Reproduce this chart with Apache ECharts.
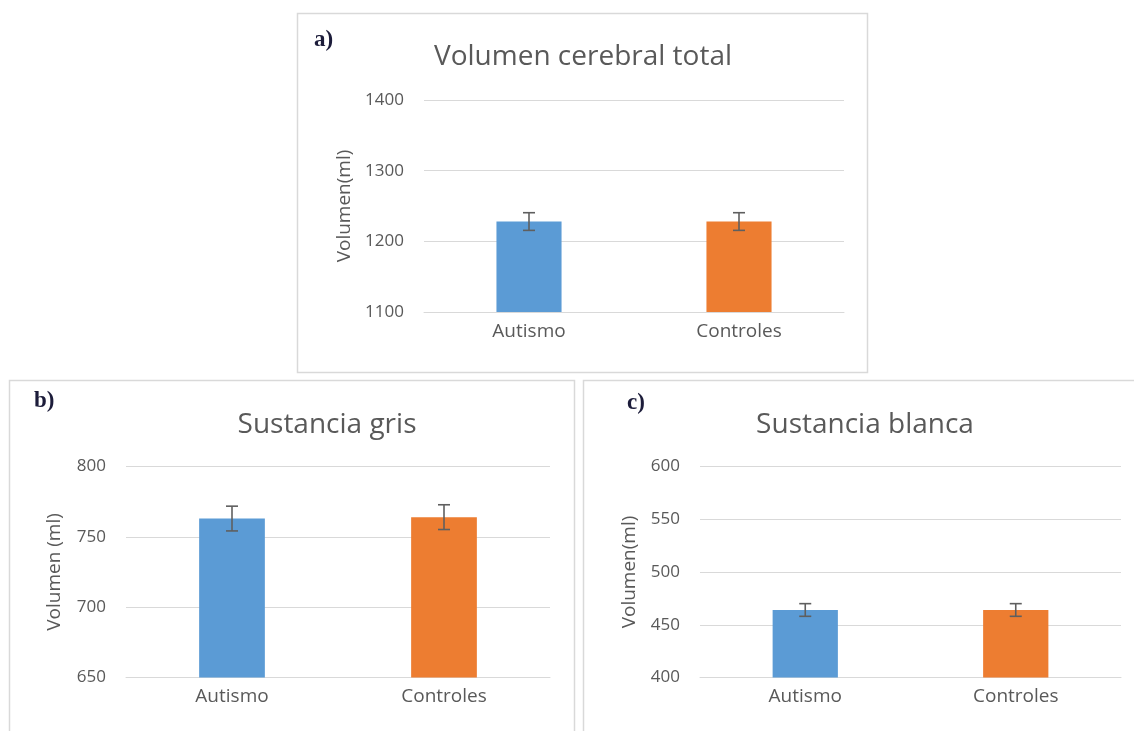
<!DOCTYPE html>
<html>
<head>
<meta charset="utf-8">
<script src="https://cdn.jsdelivr.net/npm/echarts@6/dist/echarts.min.js"></script>
<style>
  html, body { margin: 0; padding: 0; background: #ffffff; }
  #chart { width: 1134px; height: 731px; }
</style>
</head>
<body>
<div id="chart"></div>
<script>
// Group labels and bar colours
const categories = ['Autismo', 'Controles'];
const barColors = ['#5B9BD5', '#ED7D31'];

// a) Volumen cerebral total (ml): means and error half-widths
const totalMeans = [1228, 1228];
const totalErr = [12.5, 12.5];

// b) Sustancia gris (ml)
const grisMeans = [763, 764];
const grisErr = [8.8, 8.8];

// c) Sustancia blanca (ml)
const blancaMeans = [464, 464];
const blancaErr = [6, 6];

// Panel titles, tags and axis names
const panelTitles = ['Volumen cerebral total', 'Sustancia gris', 'Sustancia blanca'];
const panelTags = ['a)', 'b)', 'c)'];
const axisNames = ['Volumen(ml)', 'Volumen (ml)', 'Volumen(ml)'];

// Y scales: [min, max, interval]
const yScales = [[1100, 1400, 100], [650, 800, 50], [400, 600, 50]];

const FONT = '"Open Sans", "Noto Sans", sans-serif';
const TEXT = '#595959';
const GRID_LINE = '#d9d9d9';

const chart = echarts.init(document.getElementById('chart'), null, { renderer: 'canvas' });

const grids = [
  { left: 424, top: 100, width: 420, height: 212 },
  { left: 126, top: 466.5, width: 424, height: 211 },
  { left: 700, top: 466.5, width: 421, height: 211 }
];

const means = [totalMeans, grisMeans, blancaMeans];
const errs = [totalErr, grisErr, blancaErr];
const nameGaps = [70, 62, 61];

const xAxes = grids.map((g, i) => ({
  type: 'category',
  gridIndex: i,
  data: categories,
  axisLine: { show: true, lineStyle: { color: GRID_LINE, width: 1 } },
  axisTick: { show: false },
  axisLabel: { color: TEXT, fontFamily: FONT, fontSize: 19, margin: 10 }
}));

const yAxes = grids.map((g, i) => ({
  type: 'value',
  gridIndex: i,
  min: yScales[i][0],
  max: yScales[i][1],
  interval: yScales[i][2],
  name: axisNames[i],
  nameLocation: 'middle',
  nameGap: nameGaps[i],
  nameRotate: 90,
  nameTextStyle: { color: TEXT, fontFamily: FONT, fontSize: 19 },
  axisLine: { show: false },
  axisTick: { show: false },
  axisLabel: {
    color: TEXT, fontFamily: FONT, fontSize: 17, margin: 20,
    formatter: v => String(v)
  },
  splitLine: { show: true, lineStyle: { color: GRID_LINE, width: 1 } }
}));

const series = [];
means.forEach((vals, i) => {
  series.push({
    type: 'bar',
    xAxisIndex: i,
    yAxisIndex: i,
    barWidth: '31%',
    data: vals.map((v, k) => ({ value: v, itemStyle: { color: barColors[k] } })),
    silent: true,
    z: 2
  });
  series.push({
    type: 'custom',
    xAxisIndex: i,
    yAxisIndex: i,
    data: vals.map((v, k) => [k, v, errs[i][k]]),
    z: 5,
    silent: true,
    renderItem: function (params, api) {
      const x = api.value(0);
      const v = api.value(1);
      const e = api.value(2);
      const hi = api.coord([x, v + e]);
      const lo = api.coord([x, v - e]);
      const cap = 6;
      const style = { stroke: '#5f5f5f', lineWidth: 1.6 };
      return {
        type: 'group',
        children: [
          { type: 'line', shape: { x1: hi[0], y1: hi[1], x2: lo[0], y2: lo[1] }, style: style },
          { type: 'line', shape: { x1: hi[0] - cap, y1: hi[1], x2: hi[0] + cap, y2: hi[1] }, style: style },
          { type: 'line', shape: { x1: lo[0] - cap, y1: lo[1], x2: lo[0] + cap, y2: lo[1] }, style: style }
        ]
      };
    }
  });
});

const titleCenters = [[578, 52], [322, 420], [860, 420]];
const titles = panelTitles.map((t, i) => ({
  text: t,
  left: titleCenters[i][0],
  top: titleCenters[i][1],
  textAlign: 'center',
  textVerticalAlign: 'middle',
  textStyle: { color: TEXT, fontFamily: FONT, fontSize: 28, fontWeight: 'normal' }
}));

const tagPos = [[314, 40], [34, 401], [627, 403]];
const graphics = [
  // panel frames
  { type: 'rect', shape: { x: 297.5, y: 13.5, width: 570, height: 359 },
    style: { fill: 'none', stroke: GRID_LINE, lineWidth: 1.5 }, z: -1 },
  { type: 'rect', shape: { x: 9.5, y: 380.5, width: 565, height: 380 },
    style: { fill: 'none', stroke: GRID_LINE, lineWidth: 1.5 }, z: -1 },
  { type: 'rect', shape: { x: 583.5, y: 380.5, width: 580, height: 380 },
    style: { fill: 'none', stroke: GRID_LINE, lineWidth: 1.5 }, z: -1 }
].concat(panelTags.map((t, i) => ({
  type: 'text',
  x: tagPos[i][0],
  y: tagPos[i][1],
  style: {
    text: t,
    fill: '#1c1c3a',
    font: 'bold 23px "Liberation Serif", "DejaVu Serif", serif',
    textVerticalAlign: 'middle',
    verticalAlign: 'middle'
  }
})));

chart.setOption({
  animation: false,
  backgroundColor: '#ffffff',
  title: titles,
  grid: grids,
  xAxis: xAxes,
  yAxis: yAxes,
  series: series,
  graphic: graphics
});
</script>
</body>
</html>
